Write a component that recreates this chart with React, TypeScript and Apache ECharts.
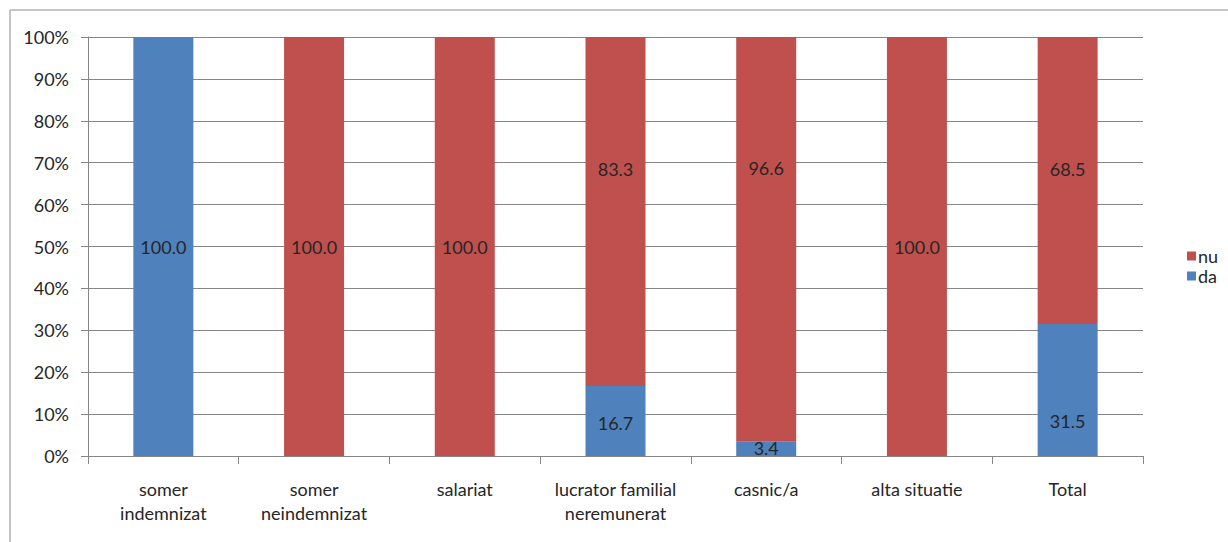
import React, { useEffect, useRef } from "react";
import * as echarts from "echarts";

const categories = [
  "somer\nindemnizat",
  "somer\nneindemnizat",
  "salariat",
  "lucrator familial\nneremunerat",
  "casnic/a",
  "alta situatie",
  "Total",
];
const daValues = [100.0, 0, 0, 16.7, 3.4, 0, 31.5];
const nuValues = [0, 100.0, 100.0, 83.3, 96.6, 100.0, 68.5];
// label vertical nudges (as placed in the original chart)
const daLabelShift = [0, 0, 0, 2, -1, 0, 31];
const nuLabelShift = [0, 0, 0, -43, -71, 0, -12];

const FONT = "Lato, 'Open Sans', sans-serif";
const TXT = "#262626";
const FS = 18;

export default function App() {
  const ref = useRef<HTMLDivElement>(null);
  useEffect(() => {
    const chart = echarts.init(ref.current!, null, { renderer: "svg" });
    const mk = (vals: number[], shifts: number[]) =>
      vals.map((v, i) => ({
        value: v,
        label: { offset: [0, shifts[i]] },
      }));
    chart.setOption({
      animation: false,
      backgroundColor: "#ffffff",
      textStyle: { fontFamily: FONT },
      graphic: [
        {
          type: "rect",
          shape: { x: 10, y: 10, width: 1240, height: 560 },
          style: { fill: "none", stroke: "#8c8c8c", lineWidth: 1 },
          silent: true,
        },
      ],
      grid: { left: 88, right: 85, top: 37, bottom: 86 },
      legend: {
        data: ["nu", "da"],
        orient: "vertical",
        left: 1182,
        top: 242,
        itemWidth: 9,
        itemHeight: 9,
        itemGap: 2,
        icon: "rect",
        textStyle: { fontSize: FS, color: TXT, fontFamily: FONT, padding: [0, 0, 0, -3] },
      },
      xAxis: {
        type: "category",
        data: categories,
        axisLine: { lineStyle: { color: "#868686" } },
        axisTick: { show: true, length: 8, lineStyle: { color: "#868686" } },
        axisLabel: {
          fontSize: FS,
          color: TXT,
          lineHeight: 24,
          margin: 21,
          interval: 0,
          fontFamily: FONT,
        },
      },
      yAxis: {
        type: "value",
        min: 0,
        max: 100,
        interval: 10,
        axisLine: { show: true, lineStyle: { color: "#868686" } },
        axisTick: { show: true, length: 7, lineStyle: { color: "#868686" } },
        splitLine: { lineStyle: { color: "#868686" } },
        axisLabel: {
          fontSize: FS,
          color: TXT,
          margin: 19,
          formatter: "{value}%",
          fontFamily: FONT,
        },
      },
      series: [
        {
          name: "da",
          type: "bar",
          stack: "s",
          barWidth: 60,
          data: mk(daValues, daLabelShift),
          itemStyle: { color: "#4F81BD" },
          label: {
            show: true,
            position: "inside",
            fontSize: FS,
            color: TXT,
            fontFamily: FONT,
            formatter: (p: any) => (p.value ? Number(p.value).toFixed(1) : ""),
          },
        },
        {
          name: "nu",
          type: "bar",
          stack: "s",
          barWidth: 60,
          data: mk(nuValues, nuLabelShift),
          itemStyle: { color: "#C0504D" },
          label: {
            show: true,
            position: "inside",
            fontSize: FS,
            color: TXT,
            fontFamily: FONT,
            formatter: (p: any) => (p.value ? Number(p.value).toFixed(1) : ""),
          },
        },
      ],
    });
    return () => chart.dispose();
  }, []);
  return (
    <div
      ref={ref}
      style={{ position: "absolute", left: 0, top: 0, width: 1228, height: 542 }}
    />
  );
}
